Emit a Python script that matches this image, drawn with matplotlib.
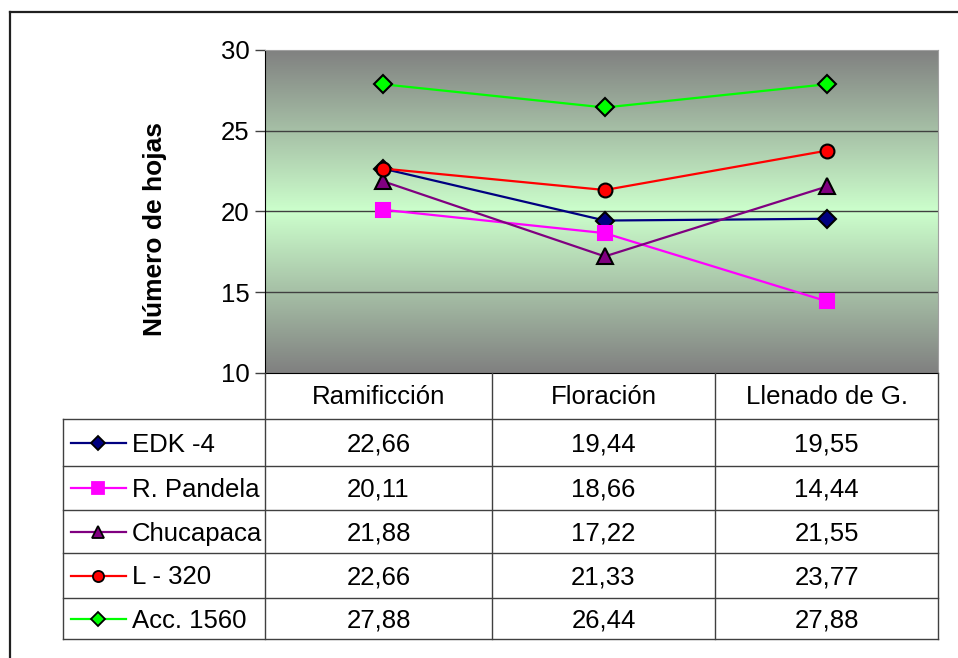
import numpy as np
import matplotlib
matplotlib.use('Agg')
import matplotlib.pyplot as plt
from matplotlib.lines import Line2D
from matplotlib.colors import LinearSegmentedColormap

plt.rcParams['font.family'] = ['Liberation Sans', 'DejaVu Sans']

# data
categories = ['Ramificción', 'Floración', 'Llenado de G.']
series_names = ['EDK -4', 'R. Pandela', 'Chucapaca', 'L - 320', 'Acc. 1560']
edk = [22.66, 19.44, 19.55]
pandela = [20.11, 18.66, 14.44]
chucapaca = [21.88, 17.22, 21.55]
l320 = [22.66, 21.33, 23.77]
acc1560 = [27.88, 26.44, 27.88]
yticks = [10, 15, 20, 25, 30]

series = [edk, pandela, chucapaca, l320, acc1560]
colors = ['#000080', '#FF00FF', '#800080', '#FF0000', '#00FF00']
markers = ['D', 's', '^', 'o', 'D']
msizes = [9, 10, 11, 10, 9]
edges = ['black', '#FF00FF', 'black', 'black', 'black']
FS = 18.5

W, H = 958, 658
fig = plt.figure(figsize=(W / 100, H / 100), dpi=100)


def fx(x):
    return x / W


def fy(y):
    return 1 - y / H


def hline(x0, x1, y, color='#404040', lw=1.0):
    fig.add_artist(Line2D([fx(x0), fx(x1)], [fy(y), fy(y)], color=color, lw=lw,
                          transform=fig.transFigure))


def vline(x, y0, y1, color='#404040', lw=1.0):
    fig.add_artist(Line2D([fx(x), fx(x)], [fy(y0), fy(y1)], color=color, lw=lw,
                          transform=fig.transFigure))


# outer frame
hline(10, W, 12, color='#202020', lw=1.6)
vline(10, 12, H, color='#202020', lw=1.6)

# plot area
left, right, top, bottom = 265, 938, 50, 373
ax = fig.add_axes([fx(left), fy(bottom), fx(right - left), (bottom - top) / H])
x0, x1 = -0.53, 2.5

# gradient background gray -> light green -> gray
cmap = LinearSegmentedColormap.from_list('bg', [(0, '#808080'), (0.5, '#CCFFCC'), (1, '#808080')])
grad = np.linspace(0, 1, 256).reshape(-1, 1)
ax.imshow(grad, aspect='auto', cmap=cmap, extent=[x0, x1, 10, 30],
          origin='lower', zorder=0, interpolation='bilinear')

x = np.arange(len(categories))
for vals, c, m, ms, ec in zip(series, colors, markers, msizes, edges):
    ax.plot(x, vals, color=c, lw=1.6, marker=m, ms=ms, mfc=c, mec=ec, mew=1.5,
            zorder=3, clip_on=False)

ax.set_xlim(x0, x1)
ax.set_ylim(10, 30)
ax.set_yticks(yticks)
ax.set_yticklabels([str(t) for t in yticks], fontsize=FS)
ax.set_xticks([])
ax.tick_params(axis='y', direction='out', length=7, width=1, color='#404040', pad=4)
for v in [15, 20, 25]:
    ax.axhline(v, color='#404040', lw=1.0, zorder=1)
ax.spines['left'].set_color('black')
ax.spines['bottom'].set_color('black')
ax.spines['top'].set_color('#a0a0a0')
ax.spines['right'].set_color('#a0a0a0')
ax.set_ylabel('Número de hojas', fontsize=19, fontweight='bold')
ax.yaxis.set_label_coords(-0.146, 1 - (229 - top) / (bottom - top))

# data table
col_edges = [265, 492, 715, 938]
row_edges = [419, 466, 510, 553, 598, 639]
tleft = 63
dy = 2  # nudge text down to sit like the reference

# header row
vline(265, bottom, row_edges[-1])
vline(938, bottom, row_edges[-1])
for cx in col_edges[1:3]:
    vline(cx, bottom, row_edges[-1])
for i, cat in enumerate(categories):
    cx = (col_edges[i] + col_edges[i + 1]) / 2
    fig.text(fx(cx), fy(395 + dy), cat, ha='center', va='center', fontsize=FS)

# body rows
for ry in row_edges:
    hline(tleft, 938, ry)
vline(tleft, row_edges[0], row_edges[-1])

for r, (name, vals) in enumerate(zip(series_names, series)):
    cy = (row_edges[r] + row_edges[r + 1]) / 2
    # legend key
    fig.add_artist(Line2D([fx(71), fx(126)], [fy(cy), fy(cy)], color=colors[r], lw=1.6,
                          transform=fig.transFigure))
    fig.add_artist(Line2D([fx(98)], [fy(cy)], marker=markers[r], ms=msizes[r] - 2,
                          mfc=colors[r], mec=edges[r], mew=1.3, ls='none',
                          transform=fig.transFigure))
    fig.text(fx(132), fy(cy + dy), name, ha='left', va='center', fontsize=FS)
    for i, v in enumerate(vals):
        cx = (col_edges[i] + col_edges[i + 1]) / 2
        fig.text(fx(cx), fy(cy + dy), f'{v:.2f}'.replace('.', ','), ha='center',
                 va='center', fontsize=FS)

fig.savefig('out.png', dpi=100)
